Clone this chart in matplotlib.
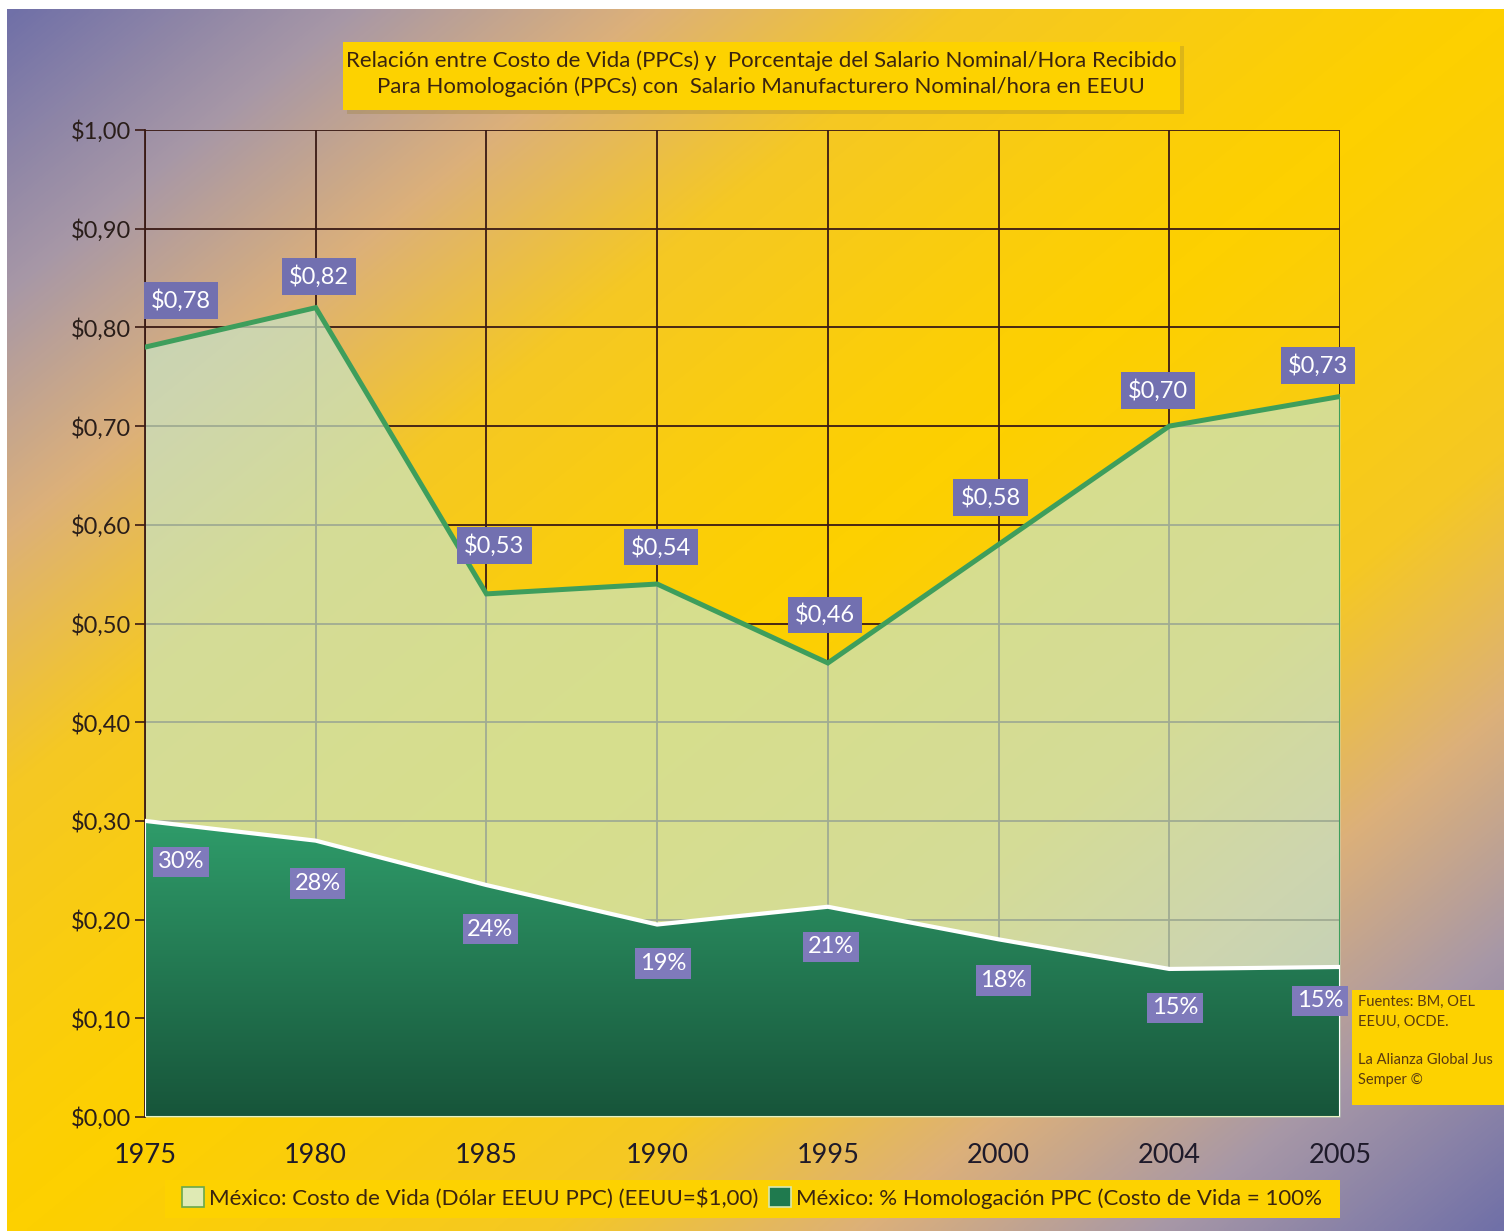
import numpy as np
import matplotlib.pyplot as plt
from matplotlib.patches import Rectangle, Patch
from matplotlib.colors import to_rgb, LinearSegmentedColormap

# --- datos ---
anios = ["1975", "1980", "1985", "1990", "1995", "2000", "2004", "2005"]
costo_vida = [0.78, 0.82, 0.53, 0.54, 0.46, 0.58, 0.70, 0.73]
homologacion = [0.30, 0.28, 0.235, 0.195, 0.213, 0.18, 0.15, 0.152]
etiquetas_costo = ["$0,78", "$0,82", "$0,53", "$0,54", "$0,46", "$0,58", "$0,70", "$0,73"]
etiquetas_homol = ["30%", "28%", "24%", "19%", "21%", "18%", "15%", "15%"]
ticks_y = [0.0, 0.1, 0.2, 0.3, 0.4, 0.5, 0.6, 0.7, 0.8, 0.9, 1.0]
rotulos_y = ["$0,00", "$0,10", "$0,20", "$0,30", "$0,40", "$0,50",
             "$0,60", "$0,70", "$0,80", "$0,90", "$1,00"]

titulo = ("Relación entre Costo de Vida (PPCs) y  Porcentaje del Salario Nominal/Hora Recibido\n"
          "Para Homologación (PPCs) con  Salario Manufacturero Nominal/hora en EEUU")
leyenda = ["México: Costo de Vida (Dólar EEUU PPC) (EEUU=$1,00)",
           "México: % Homologación PPC (Costo de Vida = 100%"]
fuentes = "Fuentes: BM, OEL\nEEUU, OCDE.\n\nLa Alianza Global Jus\nSemper ©"

# desplazamientos de las etiquetas (px)
desp_costo = [(36, 47), (3, 31), (8, 48), (4, 37), (-3, 48), (-8, 47), (-11, 36), (-22, 31)]
desp_homol = [(36, -41), (2, -43), (4, -44), (6, -39), (3, -40), (5, -41), (6, -39), (-20, -34)]

plt.rcParams['font.family'] = ['Lato', 'DejaVu Sans']

W, H = 1504, 1231
fig = plt.figure(figsize=(W / 100, H / 100), dpi=100)
fig.patch.set_facecolor("white")

# fondo degradado diagonal: morado -> amarillo -> morado
cmap_fondo = LinearSegmentedColormap.from_list(
    "fondo", [(0.0, "#fdd000"), (0.28, "#f5c824"), (0.5, "#dcb07a"),
              (0.72, "#a898a6"), (1.0, "#7070a8")])
gx, gy = np.meshgrid(np.linspace(0, 1, 300), np.linspace(0, 1, 246))
t = (gx + gy) / 2
w = np.clip(np.abs(t - 0.5) * 2, 0, 1) ** 1.25
ax_bg = fig.add_axes([7 / W, 0, 1 - 7 / W, 1 - 9 / H], zorder=-10)
ax_bg.imshow(w, cmap=cmap_fondo, vmin=0, vmax=1, aspect="auto", interpolation="bilinear")
ax_bg.axis("off")

# eje principal
ax = fig.add_axes([145 / W, 1 - 1117 / H, 1195 / W, 987 / H])
ax.set_facecolor("none")
x = np.arange(len(anios))
ax.set_xlim(0, len(anios) - 1)
ax.set_ylim(0, 1.0)

for v in ticks_y:
    ax.axhline(v, color="#3a1a14", lw=1.3, zorder=1)
for i in x:
    ax.axvline(i, color="#3a1a14", lw=1.3, zorder=1)

# area superior (costo de vida)
ax.fill_between(x, 0, costo_vida, color="#c8e4c4", alpha=0.72, lw=0, zorder=2)
ax.plot(x, costo_vida, color="#3e9e5c", lw=3.6, zorder=5, solid_joinstyle="miter")
ax.plot([x[-1], x[-1]], [0, costo_vida[-1]], color="#3e9e5c", lw=1.5, zorder=4)

# area inferior con degradado verde
poly = ax.fill_between(x, 0, homologacion, color="none", lw=0, zorder=3)
verde_sup = np.array(to_rgb("#2f9c6a"))
verde_inf = np.array(to_rgb("#17553a"))
s = np.linspace(0, 1, 200)[:, None]
grad = verde_sup[None, None, :] * (1 - s[..., None]) + verde_inf[None, None, :] * s[..., None]
grad = np.repeat(grad, 2, axis=1)
img = ax.imshow(grad, extent=[0, len(anios) - 1, 0, max(homologacion)], aspect="auto",
                interpolation="bilinear", zorder=3)
img.set_clip_path(poly.get_paths()[0], transform=ax.transData)
ax.plot(x, homologacion, color="white", lw=3, zorder=6)
ax.plot([0, 0], [0, homologacion[0]], color="white", lw=1.5, zorder=6)
ax.plot([x[-1], x[-1]], [0, homologacion[-1]], color="white", lw=1.5, zorder=6)
ax.plot([0, x[-1]], [0, 0], color="#e8f0c0", lw=1.5, zorder=6)

# etiquetas
for i, (v, et, (dx, dy)) in enumerate(zip(costo_vida, etiquetas_costo, desp_costo)):
    ax.annotate(et.replace("$", r"\$"), xy=(i, v), xytext=(dx * 0.72, dy * 0.72),
                textcoords="offset points", ha="center", va="center",
                fontsize=17, color="white", zorder=10,
                bbox=dict(boxstyle="square,pad=0.3", fc="#7270b0", ec="none"))
for i, (v, et, (dx, dy)) in enumerate(zip(homologacion, etiquetas_homol, desp_homol)):
    ax.annotate(et, xy=(i, v), xytext=(dx * 0.72, dy * 0.72),
                textcoords="offset points", ha="center", va="center",
                fontsize=17, color="white", zorder=10,
                bbox=dict(boxstyle="square,pad=0.2", fc="#7f7abb", ec="none"))

ax.set_xticks(x)
ax.set_xticklabels(anios, fontsize=19.5, color="#1e1a2a")
ax.set_yticks(ticks_y)
ax.set_yticklabels([r.replace("$", r"\$") for r in rotulos_y], fontsize=17, color="#2a1e1a")
ax.tick_params(axis="x", length=0, pad=19)
ax.tick_params(axis="y", length=7, width=1.2, color="#3a1a14", pad=3, direction="out")
for lado in ["top", "right", "bottom"]:
    ax.spines[lado].set_visible(False)
ax.spines["left"].set_color("#3a1a14")
ax.spines["left"].set_linewidth(1.3)

# titulo en caja amarilla con sombra
fig.patches.append(Rectangle((347 / W, 1 - 114 / H), 837 / W, 68 / H, transform=fig.transFigure,
                             fc="#9a8030", ec="none", alpha=0.3, zorder=0))
fig.patches.append(Rectangle((343 / W, 1 - 110 / H), 837 / W, 68 / H, transform=fig.transFigure,
                             fc="#fdd200", ec="none", zorder=1))
fig.text(761 / W, 1 - 74 / H, titulo, ha="center", va="center", fontsize=16,
         color="#3a2410", linespacing=1.35)

# fuentes
fig.patches.append(Rectangle((1352 / W, 1 - 1105 / H), 160 / W, 115 / H, transform=fig.transFigure,
                             fc="#fdd200", ec="none", zorder=1))
fig.text(1358 / W, 1 - 995 / H, fuentes, ha="left", va="top", fontsize=10.5,
         color="#5a3a10", linespacing=1.5)

# leyenda
fig.patches.append(Rectangle((165 / W, 1 - 1218 / H), 1175 / W, 38 / H, transform=fig.transFigure,
                             fc="#fdd200", ec="none", zorder=1))
manijas = [Patch(fc="#dfeab4", ec="#6aa84a", lw=1.2), Patch(fc="#1f7a4e", ec="#d8e8b0", lw=1.2)]
fig.legend(manijas, [t_.replace("$", r"\$") for t_ in leyenda], loc="center",
           bbox_to_anchor=(752 / W, 1 - 1198 / H), ncol=2, frameon=False, fontsize=16,
           handlelength=1.0, handleheight=1.0, handletextpad=0.2, columnspacing=0.5,
           labelcolor="#3a2410")

plt.savefig("out.png", dpi=100)
